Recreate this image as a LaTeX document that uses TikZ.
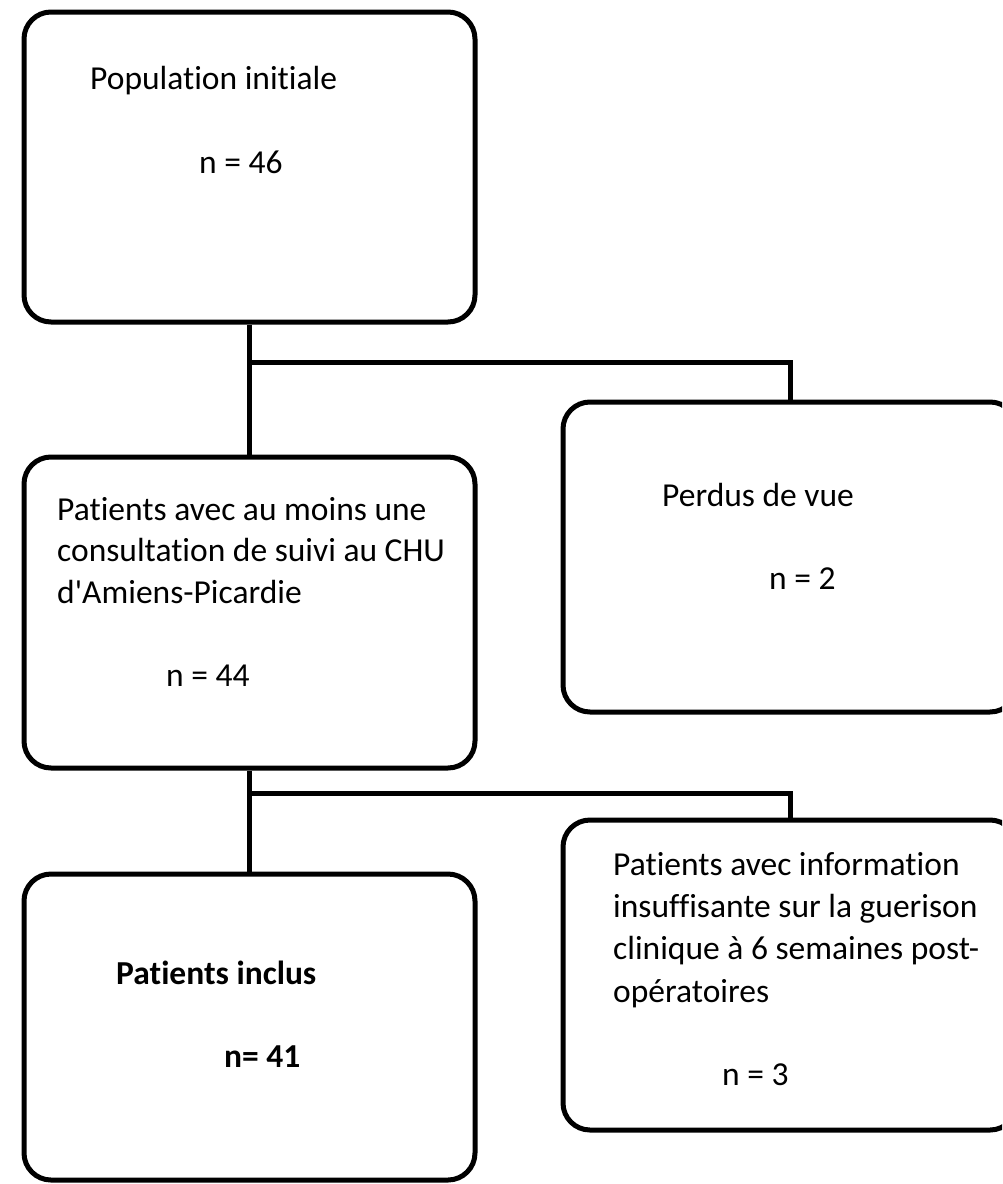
\documentclass[tikz,border=0pt]{standalone}
\usepackage{fontspec}
\newfontfamily\carl{Carlito}[Ligatures=NoCommon]
\begin{document}
\begin{tikzpicture}[x=1pt,y=-1pt,
  flowbox/.style={draw=black,line width=5pt,rounded corners=27pt,fill=white,inner sep=0pt},
  conn/.style={draw=black,line width=5pt},
  lbl/.style={anchor=base west,inner sep=0pt,align=left,font=\carl\fontsize{33.5}{41.5}\selectfont,text=black}
]
\clip (0,0) rectangle (1002,1184);
\fill[white] (0,0) rectangle (1002,1184);
% boxes
\node[flowbox,minimum width=451pt,minimum height=310pt] (A) at (249.5,167) {};
\node[flowbox,minimum width=451pt,minimum height=311pt] (B) at (249.5,612.5) {};
\node[flowbox,minimum width=454pt,minimum height=310pt] (C) at (790,557) {};
\node[flowbox,minimum width=451pt,minimum height=306pt] (D) at (249.5,1027) {};
\node[flowbox,minimum width=454pt,minimum height=310pt] (E) at (790,975) {};
% connectors
\coordinate (j1) at (249.5,362);
\coordinate (j2) at (249.5,793);
\draw[conn] (A.south) -- (B.north);
\draw[conn] (j1) -| (C.north);
\draw[conn] (B.south) -- (D.north);
\draw[conn] (j2) -| (E.north);
% texts
\node[lbl] (tA1) at (90,89) {Population initiale};
\node[lbl] (tA2) at (199,173) {n = 46};
\node[lbl] (tB1) at (57,603) {Patients avec au moins une\\consultation de suivi au CHU\\d'Amiens-Picardie};
\node[lbl] (tB2) at (166,686) {n = 44};
\node[lbl] (tC1) at (662,506) {Perdus de vue};
\node[lbl] (tC2) at (769,589) {n = 2};
\node[lbl,font=\carl\fontsize{33.5}{42.3}\selectfont] (tE1) at (613,1002) {Patients avec information\\insuffisante sur la guerison\\clinique à 6 semaines post-\\opératoires};
\node[lbl] (tE2) at (722,1085) {n = 3};
\node[lbl,font=\carl\fontsize{33.5}{41.5}\selectfont\bfseries] (tD1) at (116,984) {Patients inclus};
\node[lbl,font=\carl\fontsize{33.5}{41.5}\selectfont\bfseries] (tD2) at (224,1067) {n= 41};
\end{tikzpicture}
\end{document}
